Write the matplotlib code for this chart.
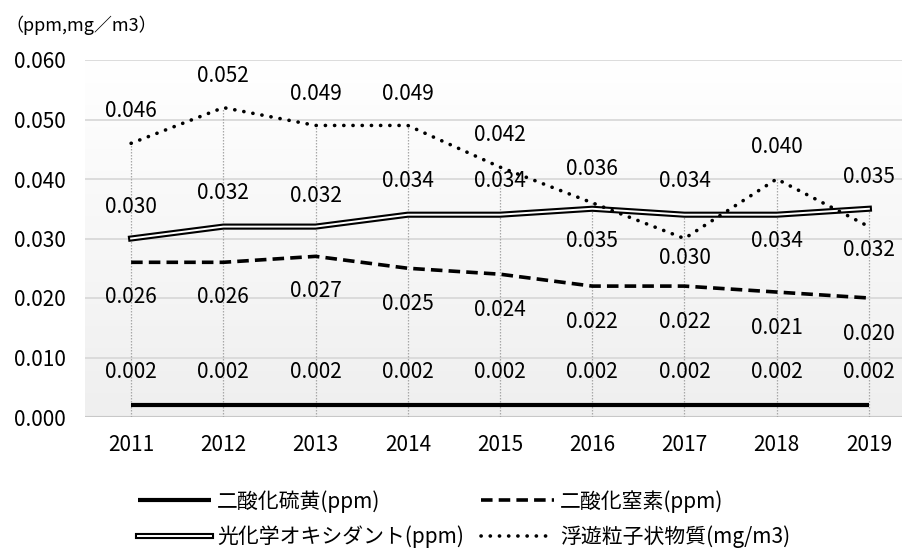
import numpy as np
import matplotlib
matplotlib.use("Agg")
import matplotlib.pyplot as plt
import matplotlib.patheffects as pe

plt.rcParams['font.family'] = ['Noto Sans CJK JP', 'DejaVu Sans']

years = ['2011', '2012', '2013', '2014', '2015', '2016', '2017', '2018', '2019']
so2 = [0.002, 0.002, 0.002, 0.002, 0.002, 0.002, 0.002, 0.002, 0.002]
no2 = [0.026, 0.026, 0.027, 0.025, 0.024, 0.022, 0.022, 0.021, 0.020]
ox = [0.030, 0.032, 0.032, 0.034, 0.034, 0.035, 0.034, 0.034, 0.035]
spm = [0.046, 0.052, 0.049, 0.049, 0.042, 0.036, 0.030, 0.040, 0.032]

names = ['二酸化硫黄(ppm)', '二酸化窒素(ppm)', '光化学オキシダント(ppm)', '浮遊粒子状物質(mg/m3)']

# label offsets in points (positive = above the point)
off_so2 = [24] * 9
off_no2 = [-25, -25, -25, -26, -26, -26, -26, -26, -26]
off_ox = [23, 24, 22, 24, 24, -23, 24, -19, 23]
off_spm = [23, 23, 23, 23, 23, 24, -14, 23, -17]

W, H = 903, 549
fig = plt.figure(figsize=(W / 100, H / 100), dpi=100)
L, R, T, B = 85, 915, 60, 417
ax = fig.add_axes([L / W, 1 - B / H, (R - L) / W, (B - T) / H])

x = np.arange(len(years))
ax.set_xlim(-0.5, len(years) - 0.5)
ax.set_ylim(0, 0.060)

# vertical gradient background
grad = np.linspace(1.0, 0.0, 256).reshape(-1, 1)
top_c = np.array([1.0, 1.0, 1.0])
bot_c = np.array([0.937, 0.937, 0.937])
img = top_c * grad[..., None] + bot_c * (1 - grad[..., None])
ax.imshow(img, extent=[-0.5, len(years) - 0.5, 0, 0.060], aspect='auto',
          origin='upper', zorder=0, interpolation='bilinear')

for s in ax.spines.values():
    s.set_visible(False)

yt = np.arange(0, 0.0601, 0.01)
ax.set_yticks(yt)
ax.set_yticklabels([f'{v:.3f}' for v in yt])
for v in yt:
    ax.axhline(v, color='#d9d9d9', lw=1.3, zorder=1)
ax.axhline(0, color='#c8c8c8', lw=1.5, zorder=1)

ax.set_xticks(x)
ax.set_xticklabels(years)
ax.tick_params(axis='both', length=0, labelsize=15)
ax.tick_params(axis='x', pad=12)
ax.tick_params(axis='y', pad=14)

# drop lines from the highest value to the axis
tops = np.max(np.array([so2, no2, ox, spm]), axis=0)
ax.vlines(x, 0, tops, colors='#a8a8a8', linestyles=(0, (1.2, 1.2)), lw=0.9, zorder=2)

l_so2, = ax.plot(x, so2, color='black', lw=3, zorder=4, solid_capstyle='butt')
l_no2, = ax.plot(x, no2, color='black', lw=2.6, zorder=4)
l_no2.set_dashes((3.2, 1.7))
l_ox, = ax.plot(x, ox, color='white', lw=1.4, zorder=4,
                path_effects=[pe.Stroke(linewidth=4.4, foreground='black'), pe.Normal()])
l_spm, = ax.plot(x, spm, color='black', lw=2.6, zorder=4, dash_capstyle='round')
l_spm.set_dashes((0.05, 2.5))

for vals, offs in [(so2, off_so2), (no2, off_no2), (ox, off_ox), (spm, off_spm)]:
    for xi, v, o in zip(x, vals, offs):
        ax.annotate(f'{v:.3f}', (xi, v), xytext=(0, o), textcoords='offset points',
                    ha='center', va='center', fontsize=15, zorder=5)

fig.text(5 / W, 1 - 25 / H, '（ppm,mg／m3）', fontsize=13, ha='left', va='center')

fig.legend([l_so2, l_ox, l_no2, l_spm], [names[0], names[2], names[1], names[3]],
           ncol=2, loc='upper left', bbox_to_anchor=(138 / W, 1 - 490 / H),
           frameon=False, fontsize=15, handlelength=3.5, handletextpad=0.3,
           columnspacing=0.8, labelspacing=0.6, borderpad=0, borderaxespad=0)

fig.savefig('out.png', dpi=100)
